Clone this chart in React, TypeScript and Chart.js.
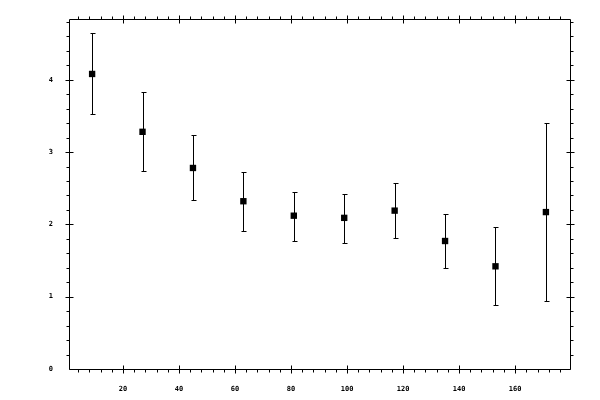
import { useEffect, useRef } from "react";
import { Chart, registerables } from "chart.js";

Chart.register(...registerables);

// bin centres and measured values with lower/upper error bounds
const binCenters = [9, 27, 45, 63, 81, 99, 117, 135, 153, 171];
const means = [4.08, 3.28, 2.78, 2.32, 2.12, 2.09, 2.19, 1.77, 1.42, 2.17];
const lowerBounds = [3.53, 2.74, 2.34, 1.91, 1.77, 1.74, 1.81, 1.4, 0.885, 0.945];
const upperBounds = [4.65, 3.83, 3.24, 2.73, 2.45, 2.42, 2.57, 2.14, 1.96, 3.4];

const xTickValues = [20, 40, 60, 80, 100, 120, 140, 160];
const yTickValues = [0, 1, 2, 3, 4];

const X_MIN = 0.75;
const X_MAX = 179.6;
const Y_MIN = 0;
const Y_MAX = 4.84;

const FONT = { family: "'DejaVu Sans Mono', monospace", size: 7, weight: "bold" as const };

// frame, minor/major ticks on all four sides, and error bars
const framePlugin = {
  id: "frame",
  beforeDatasetsDraw(chart: any) {
    const { ctx, chartArea: a, scales } = chart;
    const xs = scales.x;
    const ys = scales.y;
    const L = Math.round(a.left) + 0.5;
    const R = Math.round(a.right) + 0.5;
    const T = Math.round(a.top) + 0.5;
    const B = Math.round(a.bottom) + 0.5;
    const px = (v: number) => Math.round(xs.getPixelForValue(v)) + 0.5;
    const py = (v: number) => Math.round(ys.getPixelForValue(v)) + 0.5;

    ctx.save();
    ctx.strokeStyle = "#000";
    ctx.lineWidth = 1;
    ctx.beginPath();
    ctx.rect(L, T, R - L, B - T);

    // x minor ticks every 4
    for (let k = 1; k * 4 < X_MAX; k++) {
      const v = k * 4;
      if (v % 20 === 0) continue;
      const x = px(v);
      ctx.moveTo(x, B);
      ctx.lineTo(x, B + 3);
      ctx.moveTo(x, T);
      ctx.lineTo(x, T - 3);
    }
    xTickValues.forEach((v) => {
      const x = px(v);
      ctx.moveTo(x, B + 4);
      ctx.lineTo(x, B - 4);
      ctx.moveTo(x, T - 4);
      ctx.lineTo(x, T + 4);
    });

    // y minor ticks every 0.2
    for (let k = 1; k * 0.2 < Y_MAX; k++) {
      if (k % 5 === 0) continue;
      const y = py(k * 0.2);
      ctx.moveTo(L, y);
      ctx.lineTo(L - 3, y);
      ctx.moveTo(R, y);
      ctx.lineTo(R + 3, y);
    }
    yTickValues.forEach((v) => {
      const y = py(v);
      const out = v === 0 ? 0 : 4;
      ctx.moveTo(L - out, y);
      ctx.lineTo(L + 4, y);
      ctx.moveTo(R + out, y);
      ctx.lineTo(R - 4, y);
    });
    ctx.stroke();

    // error bars
    ctx.beginPath();
    binCenters.forEach((c, i) => {
      const x = px(c);
      const yl = py(lowerBounds[i]);
      const yu = py(upperBounds[i]);
      ctx.moveTo(x, yl);
      ctx.lineTo(x, yu);
      ctx.moveTo(x - 2, yl);
      ctx.lineTo(x + 3, yl);
      ctx.moveTo(x - 2, yu);
      ctx.lineTo(x + 3, yu);
    });
    ctx.stroke();
    ctx.restore();
  },
};

const App = () => {
  const canvasRef = useRef<HTMLCanvasElement | null>(null);
  const chartRef = useRef<Chart | null>(null);

  useEffect(() => {
    if (!canvasRef.current) return;
    if (chartRef.current) chartRef.current.destroy();

    chartRef.current = new Chart(canvasRef.current, {
      type: "scatter",
      data: {
        datasets: [
          {
            data: binCenters.map((x, i) => ({ x, y: means[i] })),
            pointStyle: "rect",
            pointRadius: 4.5,
            pointBorderWidth: 0,
            backgroundColor: "#000",
            borderColor: "#000",
            showLine: false,
          },
        ],
      },
      options: {
        responsive: false,
        animation: false,
        layout: { padding: { top: 19, right: 30, left: 0, bottom: 0 } },
        plugins: {
          legend: { display: false },
          tooltip: { enabled: false },
        },
        scales: {
          x: {
            type: "linear",
            min: X_MIN,
            max: X_MAX,
            grid: { display: false },
            border: { display: false },
            afterBuildTicks: (s: any) => {
              s.ticks = xTickValues.map((v) => ({ value: v }));
            },
            afterFit: (s: any) => {
              s.height = 31;
            },
            ticks: {
              color: "#000",
              font: FONT,
              padding: 8,
              maxRotation: 0,
              autoSkip: false,
            },
          },
          y: {
            type: "linear",
            min: Y_MIN,
            max: Y_MAX,
            grid: { display: false },
            border: { display: false },
            afterBuildTicks: (s: any) => {
              s.ticks = yTickValues.map((v) => ({ value: v }));
            },
            afterFit: (s: any) => {
              s.width = 69;
            },
            ticks: {
              color: "#000",
              font: FONT,
              padding: 8,
              autoSkip: false,
            },
          },
        },
      },
      plugins: [framePlugin],
    });

    return () => {
      chartRef.current?.destroy();
      chartRef.current = null;
    };
  }, []);

  return (
    <div
      style={{
        position: "absolute",
        left: 0,
        top: 0,
        width: "600px",
        height: "400px",
        background: "#fff",
      }}
    >
      <canvas ref={canvasRef} width={600} height={400} />
    </div>
  );
};

export default App;
